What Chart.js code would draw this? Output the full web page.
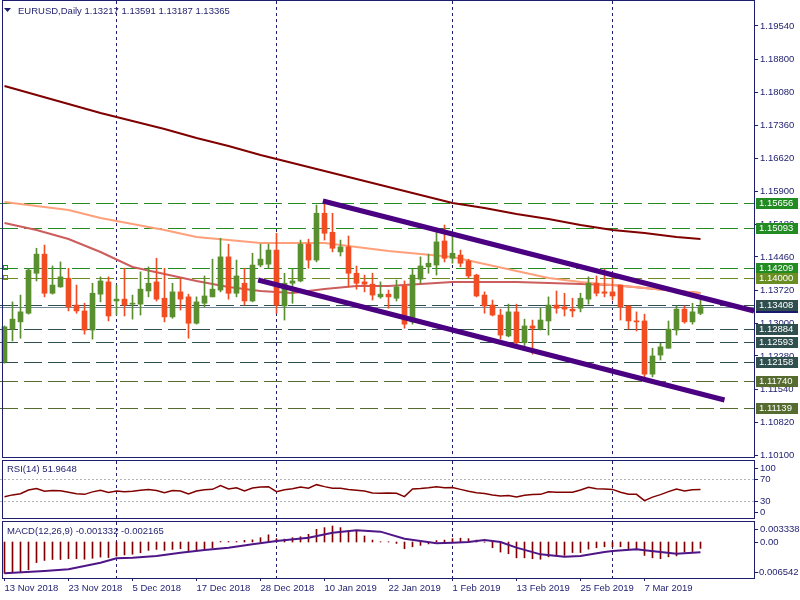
<!DOCTYPE html>
<html>
<head>
<meta charset="utf-8">
<script src="https://cdn.jsdelivr.net/npm/chart.js@4/dist/chart.umd.min.js"></script>
<style>
	body { margin: 0; background: #ffffff; width: 800px; height: 600px; overflow: hidden; position: relative; }
	canvas { position: absolute; left: 0; }
</style>
</head>
<body>
<canvas id="main-chart" width="800" height="458" style="top: 0px"></canvas>
<canvas id="rsi-chart" width="800" height="62" style="top: 458px"></canvas>
<canvas id="macd-chart" width="800" height="80" style="top: 520px"></canvas>
<script>
// ============= Data =============

const symbolTitle = "EURUSD,Daily";

const opens = [1.1215, 1.1287, 1.1303, 1.1322, 1.1410, 1.1452, 1.1366, 1.1380, 1.1399, 1.1340,
	1.1327, 1.1285, 1.1364, 1.1391, 1.1349, 1.1353, 1.1342, 1.1342, 1.1371, 1.1391,
	1.1355, 1.1314, 1.1369, 1.1358, 1.1300, 1.1344, 1.1358, 1.1373, 1.1446, 1.1366,
	1.1388, 1.1349, 1.1428, 1.1430, 1.1461, 1.1338, 1.1388, 1.1393, 1.1474, 1.1439,
	1.1542, 1.1500, 1.1457, 1.1468, 1.1410, 1.1391, 1.1386, 1.1358, 1.1364, 1.1355,
	1.1382, 1.1303, 1.1397, 1.1424, 1.1428, 1.1481, 1.1443, 1.1450, 1.1437, 1.1406,
	1.1362, 1.1340, 1.1318, 1.1272, 1.1325, 1.1257, 1.1294, 1.1287, 1.1305, 1.1340,
	1.1336, 1.1331, 1.1333, 1.1353, 1.1388, 1.1369, 1.1369, 1.1384, 1.1338, 1.1305,
	1.1305, 1.1188, 1.1230, 1.1245, 1.1285, 1.1331, 1.1303, 1.13217];

const highs = [1.1294, 1.1347, 1.1362, 1.1419, 1.1465, 1.1472, 1.1426, 1.1435, 1.1421, 1.1384,
	1.1344, 1.1388, 1.1402, 1.1402, 1.1384, 1.1421, 1.1362, 1.1413, 1.1424, 1.1443,
	1.1421, 1.1388, 1.1399, 1.1364, 1.1358, 1.1404, 1.1441, 1.1487, 1.1474, 1.1439,
	1.1421, 1.1454, 1.1474, 1.1474, 1.1498, 1.1410, 1.1421, 1.1483, 1.1485, 1.1560,
	1.1571, 1.1542, 1.1483, 1.1492, 1.1426, 1.1406, 1.1410, 1.1391, 1.1373, 1.1395,
	1.1393, 1.1419, 1.1446, 1.1452, 1.1503, 1.1516, 1.1492, 1.1461, 1.1441, 1.1408,
	1.1369, 1.1351, 1.1331, 1.1342, 1.1342, 1.1309, 1.1307, 1.1333, 1.1358, 1.1371,
	1.1366, 1.1355, 1.1366, 1.1402, 1.1404, 1.1419, 1.1410, 1.1384, 1.1338, 1.1325,
	1.1320, 1.1245, 1.1256, 1.1305, 1.1338, 1.1338, 1.1344, 1.13591];

const lows = [1.1212, 1.1261, 1.1267, 1.1320, 1.1393, 1.1358, 1.1364, 1.1379, 1.1327, 1.1322,
	1.1276, 1.1265, 1.1347, 1.1305, 1.1318, 1.1316, 1.1309, 1.1318, 1.1358, 1.1349,
	1.1303, 1.1311, 1.1329, 1.1267, 1.1298, 1.1336, 1.1358, 1.1369, 1.1353, 1.1358,
	1.1340, 1.1347, 1.1424, 1.1421, 1.1322, 1.1307, 1.1344, 1.1391, 1.1421, 1.1435,
	1.1483, 1.1457, 1.1448, 1.1380, 1.1375, 1.1369, 1.1351, 1.1355, 1.1333, 1.1349,
	1.1289, 1.1298, 1.1388, 1.1410, 1.1406, 1.1435, 1.1432, 1.1424, 1.1399, 1.1358,
	1.1322, 1.1316, 1.1265, 1.1270, 1.1255, 1.1248, 1.1232, 1.1285, 1.1274, 1.1322,
	1.1316, 1.1314, 1.1325, 1.1342, 1.1360, 1.1358, 1.1351, 1.1307, 1.1287, 1.1283,
	1.1173, 1.1182, 1.1219, 1.1245, 1.1274, 1.1300, 1.1298, 1.13187];

const closes = [1.1292, 1.1309, 1.1325, 1.1417, 1.1452, 1.1366, 1.1384, 1.1402, 1.1336, 1.1327,
	1.1285, 1.1366, 1.1393, 1.1316, 1.1353, 1.1340, 1.1344, 1.1375, 1.1388, 1.1353,
	1.1314, 1.1369, 1.1353, 1.1300, 1.1347, 1.1360, 1.1375, 1.1446, 1.1366, 1.1404,
	1.1349, 1.1428, 1.1441, 1.1461, 1.1340, 1.1388, 1.1393, 1.1474, 1.1439, 1.1542,
	1.1498, 1.1465, 1.1468, 1.1410, 1.1388, 1.1386, 1.1362, 1.1364, 1.1358, 1.1380,
	1.1298, 1.1406, 1.1426, 1.1432, 1.1479, 1.1443, 1.1454, 1.1432, 1.1404, 1.1360,
	1.1338, 1.1318, 1.1274, 1.1325, 1.1257, 1.1294, 1.1289, 1.1307, 1.1340, 1.1333,
	1.1331, 1.1327, 1.1355, 1.1388, 1.1366, 1.1366, 1.1360, 1.1336, 1.1305, 1.1303,
	1.1188, 1.1228, 1.1248, 1.1287, 1.1331, 1.1303, 1.1325, 1.13365];

// moving averages, read every 4 bars
const maIdx = [0, 4, 8, 12, 16, 20, 24, 28, 32, 36, 40, 44, 48, 52, 56, 60, 64, 68, 72, 76, 80, 84, 87];
const maSlow = [1.18220, 1.18022, 1.17824, 1.17626, 1.17450, 1.17274, 1.17076, 1.16900, 1.16702, 1.16526, 1.16350, 1.16174,
	1.15998, 1.15822, 1.15646, 1.15536, 1.15404, 1.15294, 1.15162, 1.15052, 1.14986, 1.14898, 1.14854];
const maMid = [1.15668, 1.15580, 1.15492, 1.15316, 1.15184, 1.15052, 1.14898, 1.14832, 1.14766, 1.14766, 1.14766, 1.14678,
	1.14590, 1.14524, 1.14458, 1.14304, 1.14150, 1.13996, 1.13908, 1.13842, 1.13776, 1.13710, 1.13666];
const maFast = [1.15206, 1.15052, 1.14854, 1.14568, 1.14238, 1.14084, 1.13930, 1.13798, 1.13710, 1.13666, 1.13754, 1.13820,
	1.13820, 1.13864, 1.13908, 1.13908, 1.13908, 1.13886, 1.13864, 1.13842, 1.13776, 1.13710, 1.13666];

// trend channel, [start, end]
const upperTrendIdx = [39.8, 93.7];
const upperTrendVals = [1.15690, 1.13270];
const lowerTrendIdx = [31.7, 90.0];
const lowerTrendVals = [1.13952, 1.11312];

const levelVals = [1.15656, 1.15093, 1.14209, 1.14000, 1.13408, 1.12884, 1.12593, 1.12158, 1.11740, 1.11139];
const bidPrice = 1.13365;

const priceTicks = [1.19540, 1.18800, 1.18080, 1.17360, 1.16620, 1.15900, 1.15180, 1.14460,
	1.13720, 1.13000, 1.12280, 1.11540, 1.10820, 1.10100];

const rsiVals = [38.8, 42, 44.2, 50.9, 53.5, 48.5, 50, 49.5, 47, 44,
	43, 47.5, 50.5, 46.5, 49, 47.9, 48.5, 50.5, 52, 50,
	46, 50, 49.1, 43.5, 49, 51.5, 52.1, 58.8, 52.7, 55,
	49.1, 54.5, 56.4, 57, 47.9, 51.5, 53, 56.5, 54, 60.6,
	57, 54, 53.9, 52, 50.5, 49, 45.5, 44.8, 45.5, 45,
	38.8, 52.7, 53.5, 55, 57, 55.2, 55.5, 52, 48.5, 46,
	44.5, 42, 40, 41, 38, 41.5, 42.5, 43, 47.5, 46.7,
	46.7, 46.7, 51, 55.8, 53, 52.7, 52, 46.7, 43, 43,
	31.5, 38, 42.5, 48, 52.7, 49.1, 51.5, 51.9648];
const rsiTicks = [100, 70, 30, 0];

const macdVals = [-0.00654, -0.00640, -0.00625, -0.00580, -0.00430, -0.00385, -0.00365, -0.00365, -0.00350, -0.00350,
	-0.00360, -0.00340, -0.00315, -0.00325, -0.00295, -0.00270, -0.00255, -0.00225, -0.00175, -0.00155,
	-0.00175, -0.00155, -0.00140, -0.00180, -0.00165, -0.00140, -0.00125, 0.00010, 0.00010, 0.00010,
	0.00035, 0.00045, 0.00090, 0.00150, 0.00070, 0.00060, 0.00090, 0.00110, 0.00160, 0.00265,
	0.00300, 0.00334, 0.00300, 0.00230, 0.00245, 0.00125, 0.00040, 0.00005, 0.00005, -0.00030,
	-0.00140, -0.00100, -0.00070, -0.00040, 0.00030, 0.00040, 0.00070, 0.00080, 0.00070, 0.00040,
	-0.00005, -0.00120, -0.00210, -0.00245, -0.00330, -0.00330, -0.00350, -0.00360, -0.00310, -0.00290,
	-0.00280, -0.00220, -0.00220, -0.00150, -0.00120, -0.00100, -0.00100, -0.00100, -0.00140, -0.00150,
	-0.00280, -0.00330, -0.00350, -0.00310, -0.00290, -0.00210, -0.00200, -0.001332];
const signalIdx = [0, 5, 8, 12, 14, 16, 19, 22, 25, 28, 31, 34, 38, 41, 44, 47, 50, 54, 56, 58,
	60, 62, 64, 67, 70, 72, 75, 76, 79, 80, 82, 84, 87];
const signalVals = [-0.00655, -0.00606, -0.00571, -0.00432, -0.00341, -0.00327, -0.00292, -0.00223, -0.00167, -0.00118,
	-0.00049, 0.00021, 0.00091, 0.00195, 0.00244, 0.00216, 0.00070, -0.00028, -0.00014, 0.00000,
	0.00042, 0.00000, -0.00118, -0.00258, -0.00306, -0.00292, -0.00209, -0.00188, -0.00153, -0.00174,
	-0.00209, -0.00244, -0.002165];
const macdTicks = [0.003338, 0, -0.006542];

const dateIdx = [0, 8, 16, 24, 32, 40, 48, 56, 64, 72, 80];
const dateLabels = ["13 Nov 2018", "23 Nov 2018", "5 Dec 2018", "17 Dec 2018", "28 Dec 2018", "10 Jan 2019",
	"22 Jan 2019", "1 Feb 2019", "13 Feb 2019", "25 Feb 2019", "7 Mar 2019"];

// first bar of each month
const separatorIdx = [14, 34, 56, 76];


// ============= Style =============

const FONT = "\"Liberation Sans\", Arial, sans-serif";
const NAVY = "#1e1e6e";
const BULL = "#5a8f2f";
const BEAR = "#f24c22";
const X_MIN = -0.5625;
const X_MAX = 93.6875;
const AXIS_WIDTH = 46;

const levelColors = ["#228b22", "#228b22", "#228b22", "#6b8e23", "#2f4f4f", "#2f4f4f", "#2f4f4f", "#2f4f4f", "#556b2f", "#556b2f"];
const markedLevels = [2, 3];

Chart.defaults.animation = false;
Chart.defaults.font.family = FONT;


// ============= Utility =============

function points(xs, ys)
{
	return xs.map((x, k) => ({ x, y: ys[k] }));
}

function hiddenX()
{
	return { type: "linear", min: X_MIN, max: X_MAX, offset: false, display: false, grid: { offset: false } };
}

// keep the axis narrow and stop it from padding the plot for its labels
function fixedWidth(scale)
{
	scale.width = AXIS_WIDTH;
	scale.paddingTop = 0;
	scale.paddingBottom = 0;
}

function drawSeparators(ctx, area, xScale)
{
	ctx.save();
	ctx.strokeStyle = "#20206a";
	ctx.lineWidth = 1;
	ctx.setLineDash([3, 3]);

	for (const idx of separatorIdx)
	{
		const px = Math.round(xScale.getPixelForValue(idx) - 0.5) + 0.5;
		ctx.beginPath();
		ctx.moveTo(px, area.top);
		ctx.lineTo(px, area.bottom);
		ctx.stroke();
	}

	ctx.restore();
}

function drawFrame(ctx, area)
{
	ctx.save();
	ctx.strokeStyle = NAVY;
	ctx.lineWidth = 1;
	ctx.strokeRect(2.5, area.top - 0.5, area.right - 2, area.bottom - area.top + 1);
	ctx.restore();
}

function drawTitle(ctx, text, y)
{
	ctx.save();
	ctx.font = "9.5px " + FONT;
	ctx.fillStyle = NAVY;
	ctx.textBaseline = "middle";
	ctx.fillText(text, 7, y);
	ctx.restore();
}

// side labels that stay inside the panel, like the terminal does
function drawSideLabels(chart, values, format)
{
	const { ctx, chartArea: area, scales: { y } } = chart;

	ctx.save();
	ctx.font = "9.5px " + FONT;
	ctx.fillStyle = NAVY;
	ctx.strokeStyle = NAVY;
	ctx.textBaseline = "middle";

	for (const v of values)
	{
		const py = y.getPixelForValue(v);
		const ly = Math.min(Math.max(py, area.top + 7), area.bottom - 6);
		const shift = v < 0 ? ctx.measureText("-").width + 1 : 0;

		ctx.beginPath();
		ctx.moveTo(area.right, Math.round(ly) + 0.5);
		ctx.lineTo(area.right + 4, Math.round(ly) + 0.5);
		ctx.stroke();
		ctx.fillText(format(v), area.right + 6 - shift, ly);
	}

	ctx.restore();
}

function priceBox(ctx, area, py, color, text)
{
	ctx.fillStyle = color;
	ctx.fillRect(area.right + 2, Math.round(py) - 5, 42, 11);
	ctx.fillStyle = "#ffffff";
	ctx.fillText(text, area.right + 5, Math.round(py) + 0.5);
}


// ============= Main panel =============

const mainOverlay = {
	id: "mainOverlay",

	beforeDatasetsDraw(chart)
	{
		const { ctx, chartArea: area, scales: { x, y } } = chart;

		drawSeparators(ctx, area, x);

		ctx.save();
		ctx.lineWidth = 1;
		ctx.setLineDash([18, 6]);

		levelVals.forEach((v, k) =>
		{
			const py = Math.round(y.getPixelForValue(v)) + 0.5;
			ctx.strokeStyle = levelColors[k];
			ctx.beginPath();
			ctx.moveTo(area.left, py);
			ctx.lineTo(area.right, py);
			ctx.stroke();
		});

		ctx.setLineDash([]);
		ctx.strokeStyle = "#778899";
		const bidY = Math.round(y.getPixelForValue(bidPrice)) + 0.5;
		ctx.beginPath();
		ctx.moveTo(area.left, bidY);
		ctx.lineTo(area.right, bidY);
		ctx.stroke();

		ctx.restore();
	},

	afterDraw(chart)
	{
		const { ctx, chartArea: area, scales: { y } } = chart;

		drawFrame(ctx, area);

		ctx.save();

		// header
		ctx.fillStyle = NAVY;
		ctx.beginPath();
		ctx.moveTo(4, 8);
		ctx.lineTo(11, 8);
		ctx.lineTo(7.5, 12);
		ctx.closePath();
		ctx.fill();

		ctx.font = "9.5px " + FONT;
		ctx.textBaseline = "middle";
		const last = opens.length - 1;
		const quote = [opens[last], highs[last], lows[last], closes[last]].map(v => v.toFixed(5)).join(" ");
		ctx.fillText(symbolTitle + " " + quote, 18, 11);

		// alert markers
		ctx.lineWidth = 1;
		for (const k of markedLevels)
		{
			const py = Math.round(y.getPixelForValue(levelVals[k]));
			ctx.strokeStyle = levelColors[k];
			ctx.strokeRect(3.5, py - 2.5, 4, 4);
		}

		// price boxes on the axis
		priceBox(ctx, area, y.getPixelForValue(bidPrice), "#191970", bidPrice.toFixed(5));
		levelVals.forEach((v, k) => priceBox(ctx, area, y.getPixelForValue(v), levelColors[k], v.toFixed(5)));

		ctx.restore();
	}
};

function MainChart()
{
	const candleColors = closes.map((c, i) => c >= opens[i] ? BULL : BEAR);
	const idx = closes.map((c, i) => i);

	return new Chart(document.getElementById("main-chart"), {
		type: "bar",
		data: {
			datasets: [
				{ type: "line", data: points(upperTrendIdx, upperTrendVals), borderColor: "#4b0082", borderWidth: 5, pointRadius: 0, order: 0 },
				{ type: "line", data: points(lowerTrendIdx, lowerTrendVals), borderColor: "#4b0082", borderWidth: 5, pointRadius: 0, order: 0 },
				{
					data: idx.map(i => ({ x: i, y: [opens[i], closes[i]] })),
					backgroundColor: candleColors,
					barThickness: 5,
					maxBarThickness: 5,
					minBarLength: 1,
					grouped: false,
					order: 1
				},
				{
					data: idx.map(i => ({ x: i, y: [lows[i], highs[i]] })),
					backgroundColor: candleColors,
					barThickness: 1,
					maxBarThickness: 1,
					grouped: false,
					order: 2
				},
				{ type: "line", data: points(maIdx, maSlow), borderColor: "#800000", borderWidth: 2, pointRadius: 0, order: 3 },
				{ type: "line", data: points(maIdx, maMid), borderColor: "#ffa07a", borderWidth: 2, pointRadius: 0, order: 3 },
				{ type: "line", data: points(maIdx, maFast), borderColor: "#cd5c5c", borderWidth: 2, pointRadius: 0, order: 3 }
			]
		},
		options: {
			responsive: false,
			layout: { padding: { top: 1, bottom: 1, left: 0, right: 0 } },
			plugins: { legend: { display: false }, tooltip: { enabled: false } },
			scales: {
				x: hiddenX(),
				y: {
					position: "right",
					min: 1.10057,
					max: 1.20090,
					afterFit: fixedWidth,
					afterBuildTicks: s => { s.ticks = priceTicks.map(value => ({ value })); },
					ticks: { autoSkip: false, callback: v => v.toFixed(5), color: NAVY, padding: 2, font: { size: 9.5 } },
					grid: { drawOnChartArea: false, drawTicks: true, tickLength: 4, color: NAVY },
					border: { display: false }
				}
			}
		},
		plugins: [ mainOverlay ]
	});
}


// ============= RSI panel =============

const rsiOverlay = {
	id: "rsiOverlay",

	beforeDatasetsDraw(chart)
	{
		const { ctx, chartArea: area, scales: { x, y } } = chart;

		drawSeparators(ctx, area, x);

		ctx.save();
		ctx.strokeStyle = "#b4b4b4";
		ctx.setLineDash([2, 2]);
		for (const v of [70, 30])
		{
			const py = Math.round(y.getPixelForValue(v)) + 0.5;
			ctx.beginPath();
			ctx.moveTo(area.left, py);
			ctx.lineTo(area.right, py);
			ctx.stroke();
		}
		ctx.restore();
	},

	afterDraw(chart)
	{
		drawFrame(chart.ctx, chart.chartArea);
		drawTitle(chart.ctx, "RSI(14) " + rsiVals[rsiVals.length - 1].toFixed(4), chart.chartArea.top + 8);
		drawSideLabels(chart, rsiTicks, v => String(v));
	}
};

function RsiChart()
{
	return new Chart(document.getElementById("rsi-chart"), {
		type: "line",
		data: {
			datasets: [
				{ data: rsiVals.map((v, i) => ({ x: i, y: v })), borderColor: "#800000", borderWidth: 1.5, pointRadius: 0 }
			]
		},
		options: {
			responsive: false,
			layout: { padding: { top: 3, bottom: 2, left: 0, right: 0 } },
			plugins: { legend: { display: false }, tooltip: { enabled: false } },
			scales: {
				x: hiddenX(),
				y: {
					position: "right",
					min: 0,
					max: 103.6,
					afterFit: fixedWidth,
					ticks: { display: false },
					grid: { display: false },
					border: { display: false }
				}
			}
		},
		plugins: [ rsiOverlay ]
	});
}


// ============= MACD panel =============

const macdOverlay = {
	id: "macdOverlay",

	beforeDatasetsDraw(chart)
	{
		drawSeparators(chart.ctx, chart.chartArea, chart.scales.x);
	},

	afterDraw(chart)
	{
		drawFrame(chart.ctx, chart.chartArea);
		drawTitle(chart.ctx, "MACD(12,26,9) " + macdVals[macdVals.length - 1].toFixed(6) + " " + signalVals[signalVals.length - 1].toFixed(6), chart.chartArea.top + 9);
		drawSideLabels(chart, macdTicks, v => v === 0 ? "0.00" : v.toFixed(6));
	}
};

function MacdChart()
{
	return new Chart(document.getElementById("macd-chart"), {
		type: "bar",
		data: {
			datasets: [
				{ type: "line", data: points(signalIdx, signalVals), borderColor: "#4f1687", borderWidth: 2, pointRadius: 0, order: 0 },
				{
					data: macdVals.map((v, i) => ({ x: i, y: v })),
					backgroundColor: "#800000",
					barThickness: 1,
					maxBarThickness: 1,
					grouped: false,
					order: 1
				}
			]
		},
		options: {
			responsive: false,
			layout: { padding: { top: 2, bottom: 0, left: 0, right: 0 } },
			plugins: { legend: { display: false }, tooltip: { enabled: false } },
			scales: {
				x: {
					type: "linear",
					min: X_MIN,
					max: X_MAX,
					offset: false,
					afterFit: s => { s.height = 22; },
					afterBuildTicks: s => { s.ticks = dateIdx.map(value => ({ value })); },
					ticks: { autoSkip: false, align: "start", maxRotation: 0, minRotation: 0, padding: 2, color: NAVY, font: { size: 9.5 }, callback: (v, k) => dateLabels[k] },
					grid: { drawOnChartArea: false, drawTicks: true, tickLength: 3, color: NAVY, offset: false },
					border: { display: false }
				},
				y: {
					position: "right",
					min: -0.00752,
					max: 0.004178,
					afterFit: fixedWidth,
					ticks: { display: false },
					grid: { display: false },
					border: { display: false }
				}
			}
		},
		plugins: [ macdOverlay ]
	});
}


MainChart();
RsiChart();
MacdChart();
</script>
</body>
</html>
